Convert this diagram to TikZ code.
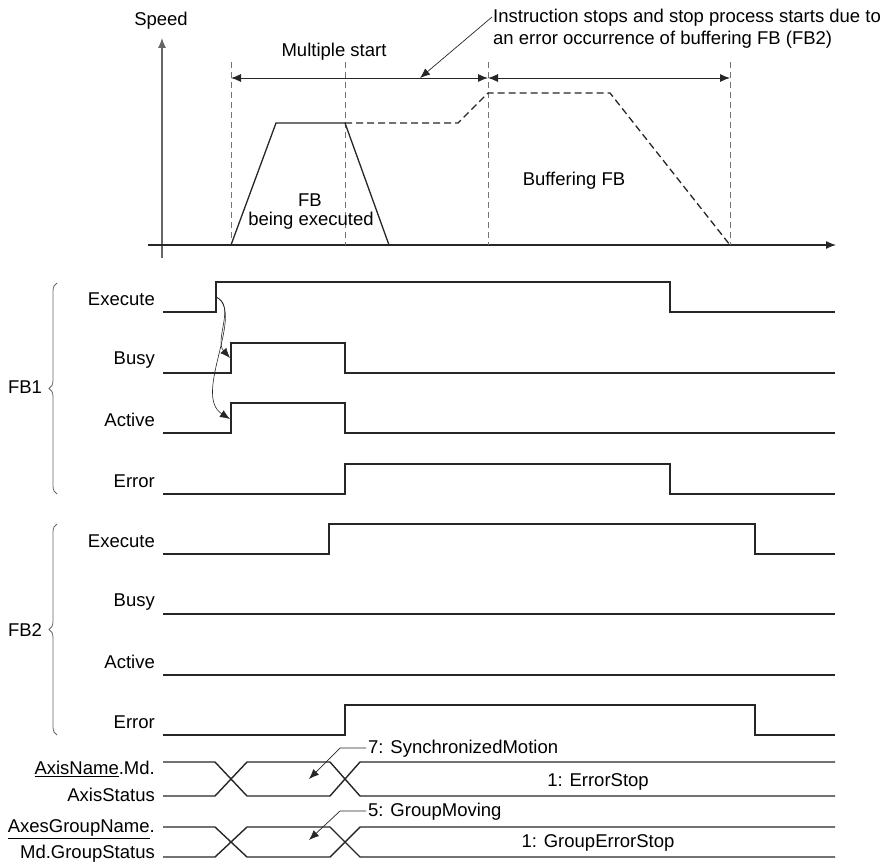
\documentclass[tikz,border=0pt]{standalone}
\usepackage{fontspec}
\setmainfont{Liberation Sans}
\usetikzlibrary{arrows.meta,decorations.pathreplacing}
\begin{document}
\begin{tikzpicture}[x=1pt,y=-1pt,
  sig/.style={line width=1.4pt,color=black!85},
  thin/.style={line width=0.7pt,color=black!85},
  vdash/.style={line width=0.9pt,color=black!55,dash pattern=on 6pt off 4pt},
  spd/.style={line width=1.3pt,color=black!85},
  spddash/.style={line width=1.3pt,color=black!85,dash pattern=on 7pt off 4pt},
  tip/.style={-{Latex[length=10pt,width=8pt]}},
  lbl/.style={anchor=east,inner sep=0pt,font=\fontsize{18.5}{21}\selectfont},
  txt/.style={inner sep=0pt,font=\fontsize{18.5}{21}\selectfont},
  brc/.style={line width=0.8pt,color=black!60,decorate,decoration={brace,amplitude=8pt}}]
\useasboundingbox (0,0) rectangle (885,861);

% ---------- speed graph ----------
\coordinate (yb) at (162,258); \coordinate (yt) at (162,38);
\coordinate (xl) at (148,245); \coordinate (xr) at (836,245);
\draw[line width=1.1pt,color=black!60,tip] (yb) -- (yt);
\draw[line width=1.3pt,color=black!85,tip] (xl) -- (xr);
\node[txt] (speed) at (161,21) {Speed};

\foreach \x in {231,345,488,730}{\draw[vdash] (\x,62) -- (\x,245);}

\coordinate (a1) at (231,78); \coordinate (a2) at (488,78); \coordinate (a3) at (730,78);
\draw[thin,line width=0.9pt,{Latex[length=10pt,width=8pt]}-{Latex[length=10pt,width=8pt]}] (a1) -- (a2);
\draw[thin,line width=0.9pt,{Latex[length=10pt,width=8pt]}-{Latex[length=10pt,width=8pt]}] (a2) -- (a3);
\node[txt] (ms) at (334,52) {Multiple start};

\draw[spd] (231,245) -- (276,123) -- (345,123) -- (389,245);
\draw[spddash] (345,123) -- (458,123) -- (488,93) -- (610,93) -- (730,245);
\node[txt] (fb) at (310,200) {FB};
\node[txt] (fbex) at (311,221) {being executed};
\node[txt] (buf) at (574,181) {Buffering FB};

\node[inner sep=0pt,font=\fontsize{18.5}{22}\selectfont,anchor=west,align=left] (note) at (493,29) {Instruction stops and stop process starts due to\\an error occurrence of buffering FB (FB2)};
\coordinate (p0) at (492,17); \coordinate (p1) at (420,78);
\draw[line width=0.7pt,color=black!85,tip] (p0) -- (p1);

% ---------- FB1 ----------
\node[lbl] (e1) at (155,299) {Execute};
\node[lbl] (b1) at (155,360) {Busy};
\node[lbl] (ac1) at (155,420) {Active};
\node[lbl] (er1) at (155,481) {Error};
\draw[sig] (163,312) -- (216,312) -- (216,282) -- (670,282) -- (670,312) -- (835,312);
\draw[sig] (163,373) -- (231,373) -- (231,343) -- (345,343) -- (345,373) -- (835,373);
\draw[sig] (163,433) -- (231,433) -- (231,403) -- (345,403) -- (345,433) -- (835,433);
\draw[sig] (163,494) -- (345,494) -- (345,464) -- (670,464) -- (670,494) -- (835,494);
\draw[brc] (57,494) -- (57,283);
\node[txt] (fb1) at (25,387) {FB1};

\coordinate (c0) at (216,297);
\coordinate (cb) at (230,358);
\coordinate (ca) at (230,419);
\draw[line width=0.6pt,color=black!85,tip] (c0) .. controls (236,305) and (214,340) .. (cb);
\draw[line width=0.6pt,color=black!85,tip] (c0) .. controls (246,312) and (192,395) .. (ca);

% ---------- FB2 ----------
\node[lbl] (e2) at (155,541) {Execute};
\node[lbl] (b2) at (155,602) {Busy};
\node[lbl] (ac2) at (155,662) {Active};
\node[lbl] (er2) at (155,722) {Error};
\draw[sig] (163,554) -- (329,554) -- (329,524) -- (755,524) -- (755,554) -- (835,554);
\draw[sig] (163,614) -- (835,614);
\draw[sig] (163,675) -- (835,675);
\draw[sig] (163,735) -- (345,735) -- (345,705) -- (755,705) -- (755,735) -- (835,735);
\draw[brc] (57,735) -- (57,524);
\node[txt] (fb2) at (25,630) {FB2};

% ---------- status ----------
\node[lbl] (an) at (155,769) {\underline{AxisName}.Md.};
\node[lbl] (as) at (155,795) {AxisStatus};
\draw[sig] (163,796) -- (215,796) -- (247,762) -- (330,762) -- (360,796) -- (835,796);
\draw[sig] (163,762) -- (215,762) -- (247,796) -- (330,796) -- (360,762) -- (835,762);
\node[txt] (es) at (598,782) {1: ErrorStop};
\node[txt,anchor=west] (sm) at (368,749) {7: SynchronizedMotion};
\coordinate (s0) at (366,748); \coordinate (s1) at (340,748); \coordinate (s2) at (309,779);
\draw[line width=0.7pt,color=black!85,tip] (s0) -- (s1) -- (s2);

\node[lbl] (gn) at (155,829) {\underline{AxesGroupName}.};
\node[lbl] (gs) at (155,854) {Md.GroupStatus};
\draw[sig] (163,857) -- (215,857) -- (247,827) -- (330,827) -- (360,857) -- (835,857);
\draw[sig] (163,827) -- (215,827) -- (247,857) -- (330,857) -- (360,827) -- (835,827);
\node[txt] (ges) at (598,843) {1: GroupErrorStop};
\node[txt,anchor=west] (gm) at (368,812) {5: GroupMoving};
\coordinate (g0) at (366,811); \coordinate (g1) at (340,811); \coordinate (g2) at (309,840);
\draw[line width=0.7pt,color=black!85,tip] (g0) -- (g1) -- (g2);
\end{tikzpicture}
\end{document}
